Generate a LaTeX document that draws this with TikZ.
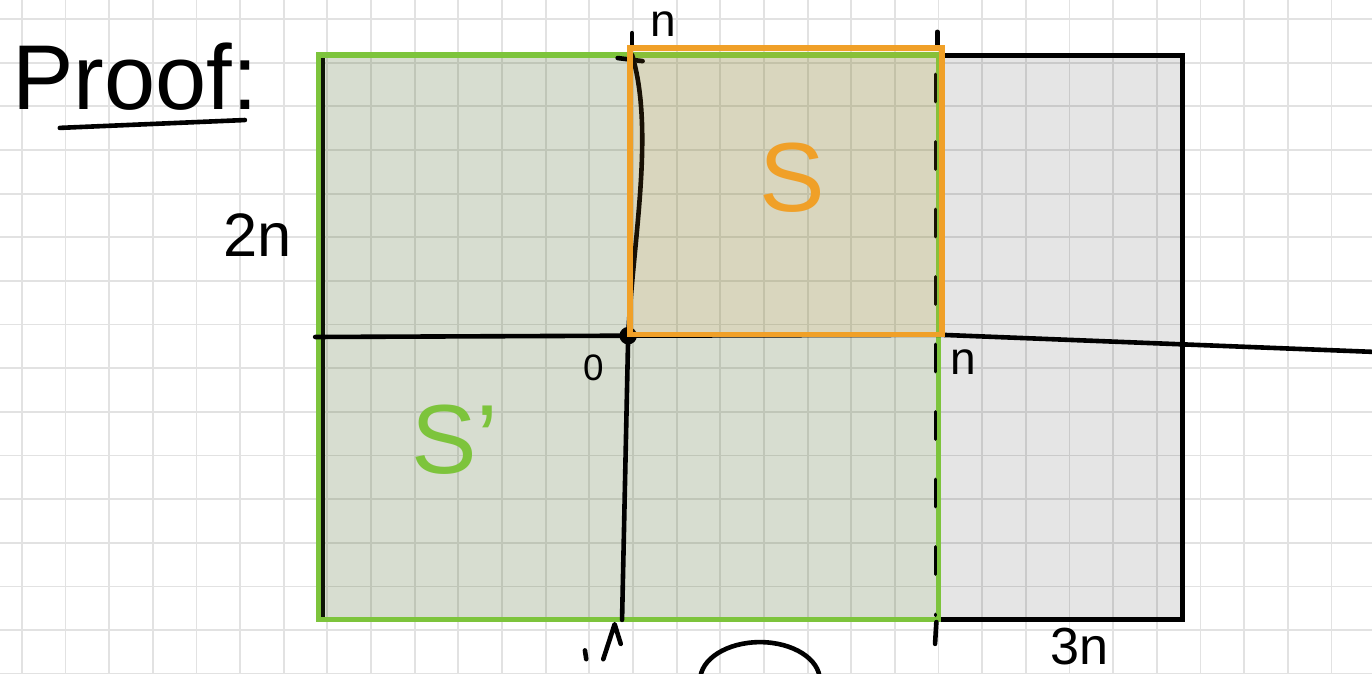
\documentclass[tikz,border=0pt]{standalone}
\usepackage{fontspec}
\setmainfont{Liberation Sans}
\definecolor{sgreen}{RGB}{125,196,60}
\definecolor{sgreenfill}{RGB}{120,170,60}
\definecolor{sorange}{RGB}{240,160,40}
\definecolor{gridgray}{RGB}{226,226,226}
\begin{document}
\begin{tikzpicture}[x=0.5cm,y=-0.5cm,
  ink/.style={line width=1.5pt,line cap=round,line join=round},
  side/.style={line width=1.7pt},
  lbl/.style={inner sep=0pt,font=\fontsize{15}{15}\selectfont}]
\clip (0,0) rectangle (31.43,15.44);
\fill[white] (0,0) rectangle (31.43,15.44);
\foreach \i in {0,...,30}
  \draw[gridgray,line width=0.6pt] (0.5+\i,0) -- (0.5+\i,15.44);
\foreach \j in {0,...,15}
  \draw[gridgray,line width=0.6pt] (0,0.435+\j) -- (31.43,0.435+\j);
\fill[black,fill opacity=0.1] (7.38,1.28) rectangle (27.08,14.2);
\draw[side] (7.38,1.28) rectangle (27.08,14.2);
\fill[sgreenfill,fill opacity=0.12] (7.3,1.26) rectangle (21.49,14.2);
\draw[sgreen,side] (7.3,1.26) rectangle (21.49,14.2);
\draw[ink] (7.22,7.72) -- (14.39,7.69) -- (21.55,7.67) -- (31.43,8.06);
\draw[ink] (14.15,1.33) -- (14.72,1.4);
\draw[ink] (14.48,1.26) .. controls (15.0,3.0) and (14.5,5.5) .. (14.39,7.69) -- (14.25,14.2);
\fill (14.39,7.69) circle (0.2);
\draw[ink] (14.48,0.76) -- (14.48,1.12);
\draw[ink] (21.47,0.73) -- (21.47,1.08);
\draw[ink,line width=1pt,dash pattern=on 9pt off 13pt] (21.43,1.7) -- (21.43,14.1);
\draw[ink] (21.45,14.25) -- (21.42,14.75);
\draw[ink] (13.82,15.1) -- (14.08,14.3) -- (14.22,14.75);
\draw[ink] (13.4,14.9) -- (13.43,15.1);
\fill[sorange,fill opacity=0.1] (14.43,1.1) rectangle (21.58,7.67);
\draw[sorange,side] (14.43,1.1) rectangle (21.58,7.67);
\draw[ink] (17.41,15.58) ellipse [x radius=1.37,y radius=0.87];
\node[lbl,font=\fontsize{30}{30}\selectfont] (proof) at (3.1,1.75) {Proof:};
\draw[ink] (1.37,2.93) -- (5.61,2.75);
\node[lbl,font=\fontsize{20}{20}\selectfont] (twon) at (5.91,5.38) {2n};
\node[lbl] (ntop) at (15.19,0.55) {n};
\node[lbl] (nright) at (22.06,8.29) {n};
\node[lbl,font=\fontsize{12}{12}\selectfont] (zero) at (13.59,8.43) {0};
\node[lbl,font=\fontsize{17}{17}\selectfont,anchor=south] (threen) at (24.74,15.25) {3n};
\node[lbl,sorange,font=\fontsize{32}{32}\selectfont] (slabel) at (18.14,4.08) {S};
\node[lbl,sgreen,font=\fontsize{32}{32}\selectfont] (sprime) at (10.42,10.08) {S'};
\end{tikzpicture}
\end{document}
